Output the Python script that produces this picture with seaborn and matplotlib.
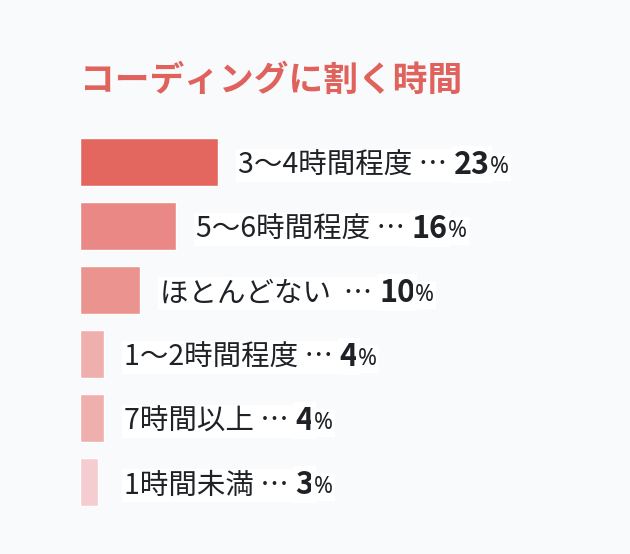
import matplotlib
matplotlib.use("Agg")
import matplotlib.pyplot as plt
import seaborn as sns

categories = ["3〜4時間程度", "5〜6時間程度", "ほとんどない ", "1〜2時間程度", "7時間以上", "1時間未満"]
shares = [23, 16, 10, 4, 4, 3]
bar_colors = ["#e4675f", "#e98884", "#eb938f", "#efafad", "#efafad", "#f5cdd0"]
title = "コーディングに割く時間"

BG = "#f9fafb"
INK = "#1e2226"


def main():
    sns.set_theme(style="white")
    plt.rcParams["font.family"] = ["Noto Sans CJK JP", "DejaVu Sans"]

    fig = plt.figure(figsize=(6.3, 5.54), dpi=100, facecolor=BG)
    ax = fig.add_axes([80 / 630, 40 / 554, 450 / 630, 384 / 554])
    ax.set_facecolor(BG)

    sns.barplot(x=shares, y=categories, hue=categories, palette=bar_colors,
                legend=False, orient="h", width=0.75, saturation=1, ax=ax)

    ax.set_xlim(0, 75)
    ax.set_ylim(5.5, -0.5)
    ax.set_axis_off()

    box = dict(facecolor="white", edgecolor="none", pad=1.5)
    for i, (name, v) in enumerate(zip(categories, shares)):
        t1 = ax.text(max(v, 4) + 3.4, i, name + " … ", va="center_baseline",
                     ha="left", fontsize=20.5, color=INK, bbox=box)
        t2 = ax.annotate(str(v), xy=(1, 0), xycoords=t1, va="bottom", ha="left",
                         fontsize=22, fontweight="semibold", color=INK, bbox=box)
        ax.annotate("%", xy=(1, 0.05), xycoords=t2, va="bottom", ha="left",
                    fontsize=16.5, family="Noto Sans", color=INK, bbox=box)

    fig.text(80 / 630, 1 - 80 / 554, title, ha="left", va="center",
             fontsize=25, fontweight="bold", color="#e0625c")

    fig.savefig("out.png", dpi=100, facecolor=BG)


if __name__ == "__main__":
    main()
